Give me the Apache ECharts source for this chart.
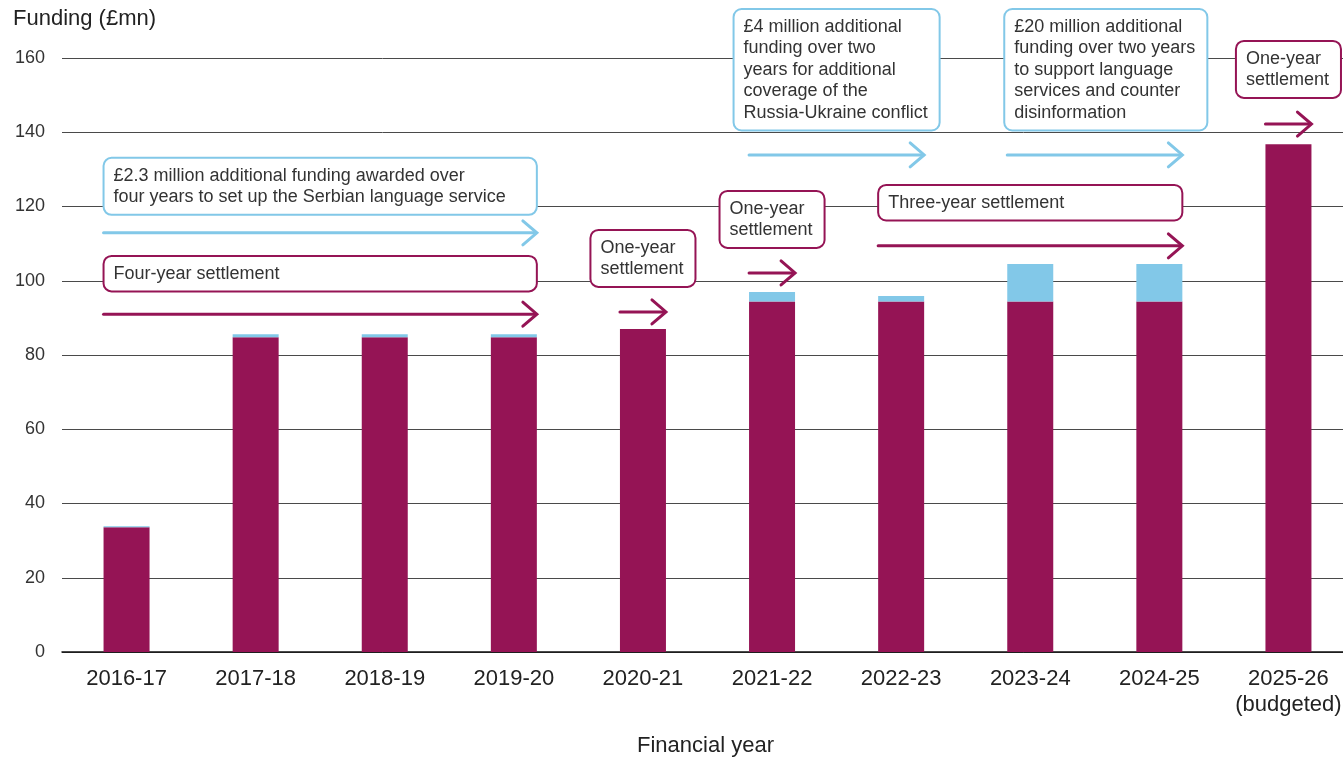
<!DOCTYPE html>
<html>
<head>
<meta charset="utf-8">
<title>Funding by financial year</title>
<script src="https://cdn.jsdelivr.net/npm/echarts@6/dist/echarts.min.js"></script>
<style>
  html, body { margin: 0; padding: 0; background: #fff; }
  #chart { width: 1343px; height: 760px; }
</style>
</head>
<body>
<div id="chart"></div>
<script>
// Financial years on the x axis
const years = ['2016-17', '2017-18', '2018-19', '2019-20', '2020-21',
  '2021-22', '2022-23', '2023-24', '2024-25', '2025-26\n(budgeted)'];

// Settlement funding (£mn)
const coreFunding = [33.6, 84.8, 84.8, 84.8, 87.0, 94.4, 94.4, 94.4, 94.4, 136.8];

// Additional ring-fenced funding (£mn)
const additionalFunding = [0.3, 0.8, 0.8, 0.8, 0, 2.6, 1.5, 10.1, 10.1, 0];

// Value axis ticks
const yMin = 0, yMax = 160, yStep = 20;

// Annotation texts
const noteTexts = [
  '£2.3 million additional funding awarded over\nfour years to set up the Serbian language service',
  'Four-year settlement',
  'One-year\nsettlement',
  'One-year\nsettlement',
  'Three-year settlement',
  '£4 million additional\nfunding over two\nyears for additional\ncoverage of the\nRussia-Ukraine conflict',
  '£20 million additional\nfunding over two years\nto support language\nservices and counter\ndisinformation',
  'One-year\nsettlement'
];
// Which funding each note refers to
const noteKinds = ['additional', 'core', 'core', 'core', 'core', 'additional', 'additional', 'core'];
// First and last year index covered by each arrow
const noteFrom = [0, 0, 4, 5, 6, 5, 7, 9];
const noteTo   = [3, 3, 4, 5, 8, 6, 8, 9];

// Annotation placement on the value scale: arrow level and top of the label box
const noteArrowAt = [112.9, 91.0, 91.6, 102.1, 109.4, 133.9, 133.9, 142.2];
const noteBoxTop  = [133.1, 106.7, 113.7, 124.2, 125.8, 173.2, 173.2, 164.6];
// 'span' boxes stretch over the arrow, 'fit' boxes wrap their text centred
// over the arrow, 'fitStart' boxes wrap their text from the arrow's start
const noteBoxMode = ['span', 'span', 'fit', 'fit', 'span', 'fit', 'fitStart', 'fit'];

const PURPLE = '#951455';
const BLUE = '#82c8e8';
const FONT_FAMILY = '"Liberation Sans", Arial, Helvetica, sans-serif';
const NOTE_FONT = '18px ' + FONT_FAMILY;
const LINE_H = 21.5;
const PAD_X = 9;
const PAD_Y = 7;
const BAR_W = 46;

const measureCtx = document.createElement('canvas').getContext('2d');
measureCtx.font = NOTE_FONT;
const textWidth = s => measureCtx.measureText(s).width;

function renderNote(params, api) {
  const i = params.dataIndex;
  const color = noteKinds[i] === 'core' ? PURPLE : BLUE;
  const half = BAR_W / 2;
  const x0 = api.coord([api.value(0), 0])[0] - half;
  const x1 = api.coord([api.value(1), 0])[0] + half;
  const ya = api.coord([0, api.value(2)])[1];
  const yb = api.coord([0, api.value(3)])[1];
  const text = noteTexts[i];
  const lines = text.split('\n');
  const tw = Math.max.apply(null, lines.map(textWidth));
  let bx, bw;
  if (noteBoxMode[i] === 'span') {
    bx = x0; bw = x1 - x0;
  } else if (noteBoxMode[i] === 'fitStart') {
    bw = tw + 2 * PAD_X + 4;
    bx = x0 - 3;
  } else {
    bw = tw + 2 * PAD_X + 4;
    bx = (x0 + x1) / 2 - bw / 2;
  }
  const bh = lines.length * LINE_H + 2 * PAD_Y;
  return {
    type: 'group',
    children: [
      {
        type: 'rect',
        shape: { x: bx, y: yb, width: bw, height: bh, r: 8 },
        style: { fill: '#fff', stroke: color, lineWidth: 2 }
      },
      {
        type: 'text',
        x: bx + PAD_X + 1,
        y: yb + PAD_Y,
        style: {
          text: text, font: NOTE_FONT, fill: '#333',
          lineHeight: LINE_H, align: 'left', verticalAlign: 'top'
        }
      },
      {
        type: 'polyline',
        shape: { points: [[x0, ya], [x1 - 1, ya]] },
        style: { stroke: color, lineWidth: 3, lineCap: 'round', fill: null }
      },
      {
        type: 'polyline',
        shape: { points: [[x1 - 14, ya - 12], [x1, ya], [x1 - 14, ya + 12]] },
        style: { stroke: color, lineWidth: 3, lineCap: 'round', lineJoin: 'miter', fill: null }
      }
    ]
  };
}

const noteData = noteTexts.map((t, i) => [noteFrom[i], noteTo[i], noteArrowAt[i], noteBoxTop[i]]);

const chart = echarts.init(document.getElementById('chart'), null, { renderer: 'canvas' });
chart.setOption({
  animation: false,
  backgroundColor: '#fff',
  textStyle: { fontFamily: FONT_FAMILY },
  title: [
    {
      text: 'Funding (£mn)', left: 13, top: 8, padding: 0,
      textStyle: { fontSize: 22, fontWeight: 'normal', color: '#222', fontFamily: FONT_FAMILY }
    },
    {
      text: 'Financial year', left: 637, top: 735, padding: 0,
      textStyle: { fontSize: 22, fontWeight: 'normal', color: '#222', fontFamily: FONT_FAMILY }
    }
  ],
  grid: {
    left: 62, top: 58, width: 1291, height: 594,
    containLabel: false, outerBoundsMode: 'none'
  },
  xAxis: {
    type: 'category',
    data: years,
    axisTick: { show: false },
    axisLine: { lineStyle: { color: '#111', width: 1.5 } },
    axisLabel: {
      fontSize: 22, color: '#222', margin: 14, lineHeight: 26,
      fontFamily: FONT_FAMILY, interval: 0
    },
    splitLine: { show: false }
  },
  yAxis: {
    type: 'value',
    min: yMin, max: yMax, interval: yStep,
    axisLine: { show: false },
    axisTick: { show: false },
    axisLabel: { fontSize: 18, color: '#333', margin: 17, fontFamily: FONT_FAMILY },
    splitLine: { lineStyle: { color: '#4a4a4a', width: 1 } }
  },
  series: [
    {
      name: 'Settlement funding',
      type: 'bar',
      stack: 'funding',
      barWidth: BAR_W,
      data: coreFunding,
      itemStyle: { color: PURPLE },
      silent: true
    },
    {
      name: 'Additional funding',
      type: 'bar',
      stack: 'funding',
      barWidth: BAR_W,
      data: additionalFunding,
      itemStyle: { color: BLUE },
      silent: true
    },
    {
      name: 'Notes',
      type: 'custom',
      clip: false,
      renderItem: renderNote,
      data: noteData,
      encode: { x: [0, 1], y: [2, 3] },
      z: 10,
      silent: true
    }
  ]
});
</script>
</body>
</html>
